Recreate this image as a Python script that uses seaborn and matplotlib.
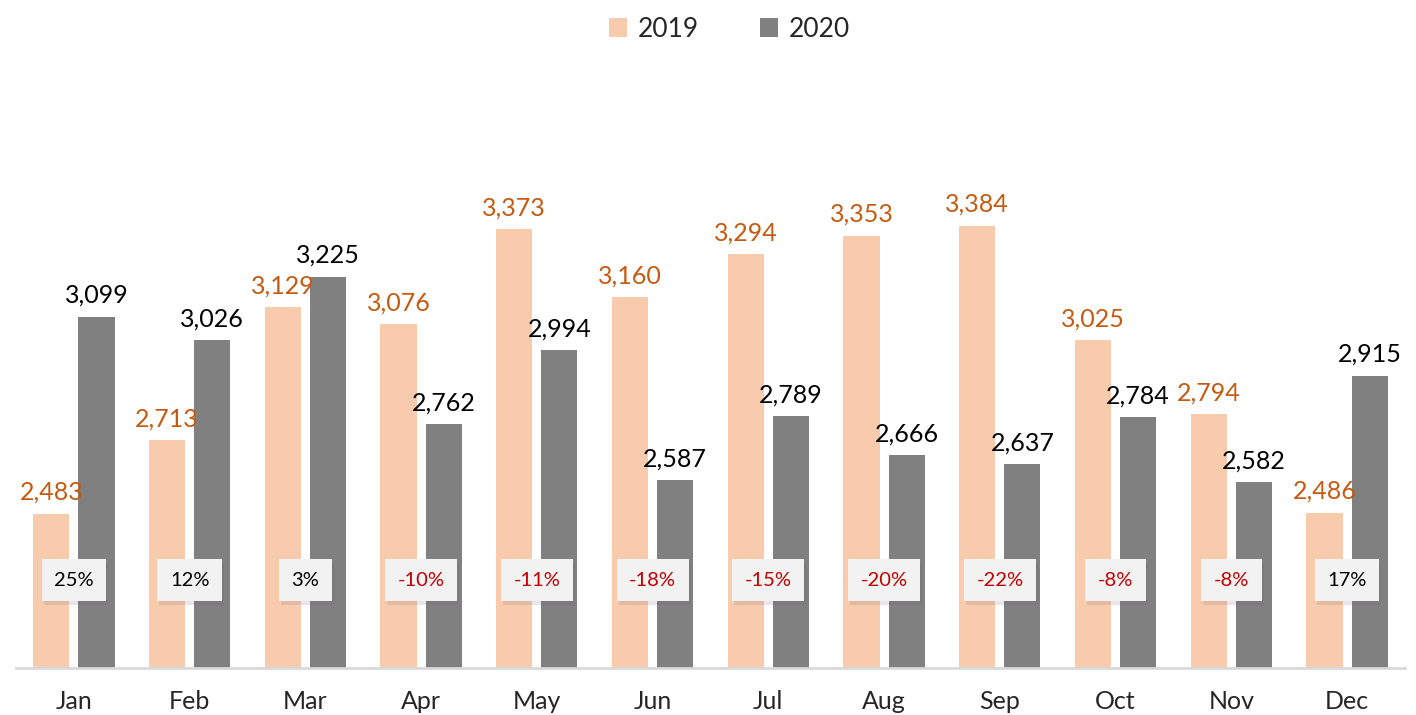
import pandas as pd
import matplotlib.pyplot as plt
import matplotlib.patheffects as pe
import seaborn as sns

# ------------------------------
# Data
# ------------------------------
months = ["Jan", "Feb", "Mar", "Apr", "May", "Jun",
          "Jul", "Aug", "Sep", "Oct", "Nov", "Dec"]
sales_2019 = [2483, 2713, 3129, 3076, 3373, 3160, 3294, 3353, 3384, 3025, 2794, 2486]
sales_2020 = [3099, 3026, 3225, 2762, 2994, 2587, 2789, 2666, 2637, 2784, 2582, 2915]
years = ["2019", "2020"]

df = pd.DataFrame({
    "month": months * 2,
    "year": [years[0]] * 12 + [years[1]] * 12,
    "value": sales_2019 + sales_2020,
})

# ------------------------------
# Plot
# ------------------------------
sns.set_theme(style="white")
plt.rcParams["font.family"] = ["Lato", "DejaVu Sans"]

fig = plt.figure(figsize=(14.16, 7.15), dpi=100)
ax = fig.add_axes([0.0113, 0.0657, 0.9809, 0.894])

sns.barplot(data=df, x="month", y="value", hue="year", order=months,
            hue_order=years, palette=["#F8CBAD", "#808080"], saturation=1,
            width=0.78, gap=0.2, linewidth=0, ax=ax)

ax.set_ylim(2000, 4000)
ax.set_xlim(-0.5, 11.5)

# value labels
label_colors = ["#C55A11", "black"]
for cont, col in zip(ax.containers, label_colors):
    ax.bar_label(cont, labels=[f"{v:,.0f}" for v in cont.datavalues],
                 padding=7, fontsize=18, color=col)

# yoy change boxes
for i, (a, b) in enumerate(zip(sales_2019, sales_2020)):
    pct = (b - a) / a * 100
    txt = ax.text(i, 2275, f"{pct:.0f}%", ha="center", va="center",
                  fontsize=14.5, color="black" if pct >= 0 else "#C00000",
                  bbox=dict(boxstyle="square,pad=0.62", facecolor="#F2F2F2",
                            edgecolor="none"))
    txt.get_bbox_patch().set_path_effects([
        pe.SimplePatchShadow(offset=(1.5, -2.5), shadow_rgbFace="#6a5a6a", alpha=0.15),
        pe.Normal()])

# axes cosmetics
sns.despine(ax=ax, left=True)
ax.spines["bottom"].set_color("#D9D9D9")
ax.spines["bottom"].set_linewidth(2)
ax.set_yticks([])
ax.set_xlabel("")
ax.set_ylabel("")
ax.tick_params(axis="x", length=0, labelsize=18, pad=16)

# legend on top
handles, labels = ax.get_legend_handles_labels()
ax.legend_.remove()
fig.legend(handles, labels, loc="upper center", bbox_to_anchor=(0.515, 1.01),
           ncol=2, frameon=False, fontsize=19, handlelength=0.7,
           handleheight=0.7, handletextpad=0.4, columnspacing=2.3)

plt.savefig("out.png", dpi=100)
